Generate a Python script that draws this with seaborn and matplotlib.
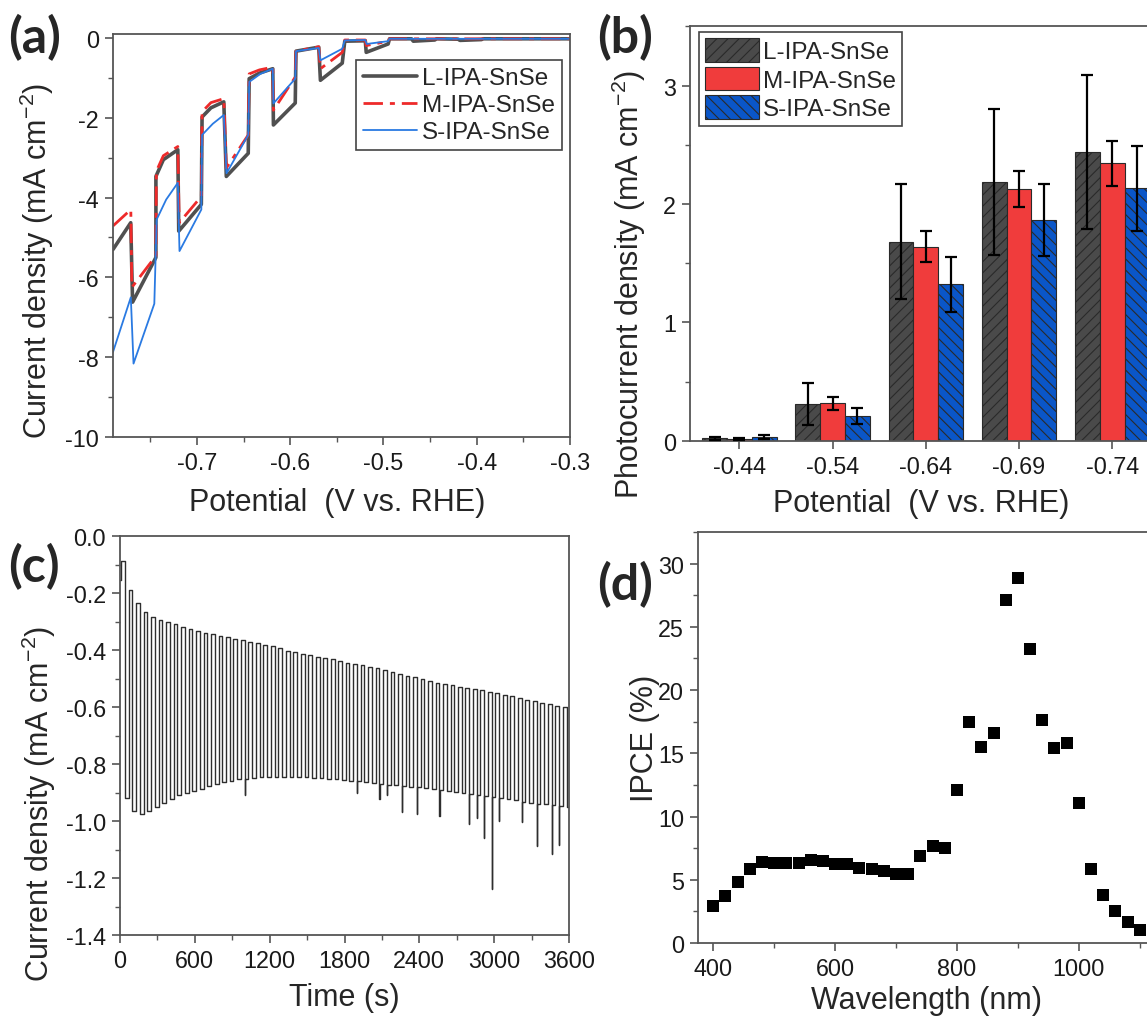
import numpy as np
import pandas as pd
import matplotlib
matplotlib.use("Agg")
import matplotlib.pyplot as plt
import seaborn as sns
from matplotlib.ticker import MultipleLocator, FixedLocator

# ---------------- data ----------------
# (a) chopped LSV curves (vertices)
L_x = [-0.790, -0.771, -0.769, -0.744, -0.744, -0.736, -0.7205, -0.7195, -0.6953, -0.6945, -0.685,
       -0.6712, -0.6685, -0.645, -0.644, -0.633, -0.6187, -0.618, -0.5946, -0.5938, -0.5694, -0.5676,
       -0.5442, -0.5415, -0.5195, -0.5185, -0.4950, -0.4935, -0.470, -0.468, -0.445, -0.443, -0.420,
       -0.418, -0.395, -0.393, -0.300]
L_y = [-5.30, -4.63, -6.62, -5.50, -3.47, -3.05, -2.80, -4.84, -4.17, -1.98, -1.75,
       -1.60, -3.47, -2.89, -1.02, -0.88, -0.77, -2.18, -1.63, -0.33, -0.23, -1.06,
       -0.63, -0.08, -0.07, -0.36, -0.15, -0.02, -0.02, -0.08, -0.05, -0.02, -0.03,
       -0.06, -0.04, -0.02, -0.02]
M_x = [-0.790, -0.7709, -0.7698, -0.744, -0.7435, -0.736, -0.7205, -0.719, -0.6953, -0.6945, -0.685,
       -0.6712, -0.6685, -0.645, -0.644, -0.633, -0.6187, -0.618, -0.5946, -0.5938, -0.5694, -0.5676,
       -0.5442, -0.5415, -0.5195, -0.5185, -0.4950, -0.4935, -0.300]
M_y = [-4.71, -4.30, -6.25, -5.46, -3.34, -2.95, -2.72, -4.63, -3.97, -1.85, -1.62,
       -1.52, -3.26, -2.43, -0.90, -0.80, -0.73, -1.81, -0.98, -0.33, -0.22, -0.77,
       -0.36, -0.05, -0.05, -0.19, -0.08, -0.02, -0.02]
S_x = [-0.790, -0.7709, -0.768, -0.7457, -0.7432, -0.733, -0.7205, -0.7187, -0.6953, -0.6945, -0.683,
       -0.6712, -0.6683, -0.645, -0.6439, -0.632, -0.6187, -0.618, -0.5946, -0.5938, -0.5694, -0.5676,
       -0.5442, -0.5415, -0.5195, -0.518, -0.495, -0.4935, -0.300]
S_y = [-7.87, -6.50, -8.16, -6.66, -4.55, -4.05, -3.63, -5.34, -4.30, -2.43, -2.15,
       -1.93, -3.39, -2.43, -1.10, -0.90, -0.77, -1.64, -1.02, -0.33, -0.25, -0.56,
       -0.27, -0.06, -0.05, -0.15, -0.08, -0.02, -0.02]

# (b) photocurrent bars
potentials = ["-0.44", "-0.54", "-0.64", "-0.69", "-0.74"]
samples = ["L-IPA-SnSe", "M-IPA-SnSe", "S-IPA-SnSe"]
L_vals = [0.020, 0.310, 1.680, 2.185, 2.437]
L_err = [0.010, 0.180, 0.485, 0.615, 0.650]
M_vals = [0.015, 0.315, 1.640, 2.125, 2.342]
M_err = [0.006, 0.055, 0.130, 0.150, 0.190]
S_vals = [0.030, 0.210, 1.320, 1.864, 2.131]
S_err = [0.015, 0.068, 0.230, 0.300, 0.360]

# (c) chopped chronoamperometry: light-on times, dark / light current levels
light_on = [40, 100, 160, 220, 280, 340, 400, 460, 520, 580, 640, 700, 760, 820, 880, 940, 1000, 1060,
            1120, 1180, 1240, 1300, 1360, 1420, 1480, 1540, 1600, 1660, 1720, 1780, 1840, 1900, 1960,
            2020, 2080, 2140, 2200, 2260, 2320, 2380, 2440, 2500, 2560, 2620, 2680, 2740, 2800, 2860,
            2920, 2980, 3040, 3100, 3160, 3220, 3280, 3340, 3400, 3460, 3520, 3580]
dark_level = [-0.088, -0.190, -0.235, -0.265, -0.284, -0.294, -0.303, -0.310, -0.318, -0.325,
              -0.332, -0.339, -0.345, -0.350, -0.355, -0.360, -0.366, -0.371, -0.376, -0.381,
              -0.387, -0.394, -0.402, -0.408, -0.413, -0.418, -0.424, -0.428, -0.433, -0.439,
              -0.444, -0.448, -0.453, -0.459, -0.463, -0.469, -0.476, -0.483, -0.490, -0.495,
              -0.502, -0.509, -0.515, -0.520, -0.524, -0.529, -0.533, -0.538, -0.542, -0.546,
              -0.551, -0.557, -0.562, -0.568, -0.574, -0.580, -0.585, -0.590, -0.595, -0.600]
light_level = [-0.920, -0.965, -0.975, -0.965, -0.950, -0.937, -0.922, -0.910, -0.902, -0.895,
               -0.886, -0.878, -0.870, -0.863, -0.858, -0.853, -0.851, -0.849, -0.847, -0.846,
               -0.845, -0.845, -0.845, -0.846, -0.847, -0.848, -0.850, -0.852, -0.854, -0.856,
               -0.858, -0.861, -0.864, -0.867, -0.870, -0.872, -0.874, -0.876, -0.879, -0.882,
               -0.885, -0.888, -0.891, -0.894, -0.897, -0.900, -0.904, -0.908, -0.912, -0.916,
               -0.920, -0.924, -0.928, -0.932, -0.936, -0.939, -0.942, -0.945, -0.948, -0.952]
spike_cycle = [16, 31, 34, 35, 37, 39, 42, 46, 47, 48, 49, 50, 53, 55, 57, 58]
spike_value = [-0.910, -0.900, -0.923, -0.910, -0.970, -0.976, -0.982, -1.011, -0.990, -1.058,
               -1.240, -1.000, -1.005, -1.087, -1.117, -1.085]

# (d) IPCE
wavelength = [400, 420, 440, 460, 480, 500, 520, 540, 560, 580, 600, 620, 640, 660, 680, 700, 720, 740,
              760, 780, 800, 820, 840, 860, 880, 900, 920, 940, 960, 980, 1000, 1020, 1040, 1060, 1080, 1100]
ipce = [2.95, 3.74, 4.79, 5.89, 6.42, 6.32, 6.32, 6.32, 6.55, 6.45, 6.24, 6.24, 5.97, 5.89, 5.71, 5.45,
        5.45, 6.89, 7.68, 7.53, 12.08, 17.50, 15.53, 16.58, 27.16, 28.90, 23.26, 17.60, 15.39, 15.84,
        11.05, 5.89, 3.79, 2.55, 1.63, 1.05]

# ---------------- style ----------------
sns.set_theme(style="ticks")
plt.rcParams["font.family"] = ["Liberation Sans", "DejaVu Sans"]
plt.rcParams["mathtext.fontset"] = "custom"
plt.rcParams["mathtext.rm"] = "Liberation Sans"
plt.rcParams["mathtext.it"] = "Liberation Sans:italic"
plt.rcParams["mathtext.default"] = "regular"
plt.rcParams["hatch.linewidth"] = 0.8

W, H = 1147, 1020
fig = plt.figure(figsize=(W / 100, H / 100), dpi=100)
fig.patch.set_facecolor("white")

def px_axes(left, top, right, bottom):
    return fig.add_axes([left / W, 1 - bottom / H, (right - left) / W, (bottom - top) / H])

TICK_FS = 16.8
LAB_FS = 22
LEG_FS = 17.5
SPINE_C = "#555555"

def style_axes(ax):
    ax.tick_params(which="major", direction="out", length=6, width=1.2, color=SPINE_C,
                   labelsize=TICK_FS, labelcolor="#1a1a1a", pad=4, top=False, right=False)
    ax.tick_params(which="minor", direction="out", length=3.5, width=1.0, color=SPINE_C,
                   top=False, right=False)
    for s in ax.spines.values():
        s.set_color(SPINE_C)
        s.set_linewidth(1.3)
    ax.set_facecolor("white")

# ---------------- (a) ----------------
axA = px_axes(113, 35, 570, 438)
sns.lineplot(x=L_x, y=L_y, ax=axA, estimator=None, sort=False, color="#505050", lw=2.6,
             label="L-IPA-SnSe")
sns.lineplot(x=M_x, y=M_y, ax=axA, estimator=None, sort=False, color="#ee2a2a", lw=2.0,
             linestyle=(0, (7, 2.5, 1.8, 2.5)), label="M-IPA-SnSe")
sns.lineplot(x=S_x, y=S_y, ax=axA, estimator=None, sort=False, color="#2a7ae2", lw=1.3,
             label="S-IPA-SnSe")
axA.set_xlim(-0.79, -0.3)
axA.set_ylim(-10, 0.1)
axA.xaxis.set_major_locator(FixedLocator([-0.7, -0.6, -0.5, -0.4, -0.3]))
axA.xaxis.set_minor_locator(MultipleLocator(0.05))
axA.yaxis.set_major_locator(MultipleLocator(2))
axA.yaxis.set_minor_locator(MultipleLocator(1))
axA.set_xticklabels(["-0.7", "-0.6", "-0.5", "-0.4", "-0.3"])
axA.set_yticks([0, -2, -4, -6, -8, -10])
axA.set_yticklabels(["0", "-2", "-4", "-6", "-8", "-10"])
style_axes(axA)
axA.set_xlabel("Potential  (V vs. RHE)", fontsize=LAB_FS)
axA.set_ylabel("Current density (mA cm$^{-2}$)", fontsize=LAB_FS)
axA.xaxis.set_label_coords(0.49, -0.125)
axA.yaxis.set_label_coords(-0.125, 0.44)
legA = axA.legend(loc="upper right", bbox_to_anchor=(0.9825, 0.9355), borderaxespad=0,
                  fontsize=LEG_FS, handlelength=2.2, labelspacing=0.2, fancybox=False,
                  framealpha=1, edgecolor="#444444", borderpad=0.3, handletextpad=0.2)
legA.get_frame().set_linewidth(1.2)

# ---------------- (b) ----------------
axB = px_axes(690, 27.3, 1161.6, 441.7)
rows = []
for p, a, b, c in zip(potentials, L_vals, M_vals, S_vals):
    rows += [(p, samples[0], a), (p, samples[1], b), (p, samples[2], c)]
dfB = pd.DataFrame(rows, columns=["Potential", "Sample", "J"])
sns.barplot(data=dfB, x="Potential", y="J", hue="Sample", order=potentials, hue_order=samples,
            palette=["#4a4a4a", "#f03c3c", "#0a56c8"], errorbar=None, width=0.8,
            edgecolor="#2a2a2a", linewidth=0.8, saturation=1, ax=axB, legend=False)
hatches = ["///", "", "\\\\\\"]
errs = [L_err, M_err, S_err]
for cont, h, e in zip(axB.containers, hatches, errs):
    xs, ys = [], []
    for patch in cont:
        patch.set_hatch(h)
        xs.append(patch.get_x() + patch.get_width() / 2)
        ys.append(patch.get_height())
    axB.errorbar(xs, ys, yerr=e, fmt="none", ecolor="black", elinewidth=1.6, capsize=4,
                 capthick=1.6, zorder=5)
axB.set_xlim(-0.53, 4.53)
axB.set_ylim(0, 3.5)
axB.yaxis.set_major_locator(MultipleLocator(1))
axB.yaxis.set_minor_locator(MultipleLocator(0.5))
style_axes(axB)
axB.tick_params(axis="x", which="minor", length=0)
axB.set_xlabel("Potential  (V vs. RHE)", fontsize=LAB_FS)
axB.set_ylabel("Photocurrent density (mA cm$^{-2}$)", fontsize=LAB_FS)
axB.xaxis.set_label_coords(0.49, -0.113)
axB.yaxis.set_label_coords(-0.089, 0.38)
legB = axB.legend(handles=[c[0] for c in axB.containers], labels=samples, loc="upper left",
                  bbox_to_anchor=(0.019, 0.986), borderaxespad=0, fontsize=LEG_FS,
                  handlelength=2.2, handleheight=1.1, labelspacing=0.15, fancybox=False,
                  framealpha=1, edgecolor="#444444", borderpad=0.25, handletextpad=0.2)
legB.get_frame().set_linewidth(1.2)

# ---------------- (c) ----------------
axC = px_axes(120, 537, 569, 936)
ct, cy = [0, 5], [-0.155, -0.100]
for i, t_on in enumerate(light_on):
    ct.append(t_on - 30 if i > 0 else 10)
    cy.append(dark_level[i])
    if i in spike_cycle:
        ct.append(t_on)
        cy.append(spike_value[spike_cycle.index(i)])
        ct.append(t_on + 2)
    else:
        ct.append(t_on)
    cy.append(light_level[i])
ct.append(3600)
cy.append(light_level[-1])
sns.lineplot(x=ct, y=cy, ax=axC, estimator=None, sort=False, color="#2e2e2e", lw=1.0,
             drawstyle="steps-post")
axC.set_xlim(0, 3600)
axC.set_ylim(-1.4, 0)
axC.xaxis.set_major_locator(MultipleLocator(600))
axC.xaxis.set_minor_locator(MultipleLocator(300))
axC.yaxis.set_major_locator(MultipleLocator(0.2))
axC.yaxis.set_minor_locator(MultipleLocator(0.1))
axC.yaxis.set_major_formatter(matplotlib.ticker.FormatStrFormatter("%.1f"))
style_axes(axC)
axC.set_xlabel("Time (s)", fontsize=LAB_FS)
axC.set_ylabel("Current density (mA cm$^{-2}$)", fontsize=LAB_FS)
axC.xaxis.set_label_coords(0.50, -0.118)
axC.yaxis.set_label_coords(-0.138, 0.33)

# ---------------- (d) ----------------
axD = px_axes(698, 533, 1155, 944)
sns.scatterplot(x=wavelength, y=ipce, ax=axD, marker="s", s=75, color="black",
                edgecolor="black", linewidth=0)
axD.set_xlim(375, 1125)
axD.set_ylim(0, 32.5)
axD.xaxis.set_major_locator(MultipleLocator(200))
axD.xaxis.set_minor_locator(MultipleLocator(100))
axD.yaxis.set_major_locator(MultipleLocator(5))
axD.yaxis.set_minor_locator(MultipleLocator(2.5))
style_axes(axD)
axD.set_xlabel("Wavelength (nm)", fontsize=LAB_FS)
axD.set_ylabel("IPCE (%)", fontsize=LAB_FS)
axD.xaxis.set_label_coords(0.50, -0.102)
axD.yaxis.set_label_coords(-0.083, 0.50)

# ---------------- panel labels ----------------
for txt, x, y in [("(a)", 8, 38), ("(b)", 597, 38), ("(c)", 8, 567), ("(d)", 597, 585)]:
    fig.text(x / W, 1 - y / H, txt, fontsize=36, fontweight="bold", va="center", ha="left",
             family=["Lato", "DejaVu Sans"])

fig.savefig("out.png", dpi=100, facecolor="white")
